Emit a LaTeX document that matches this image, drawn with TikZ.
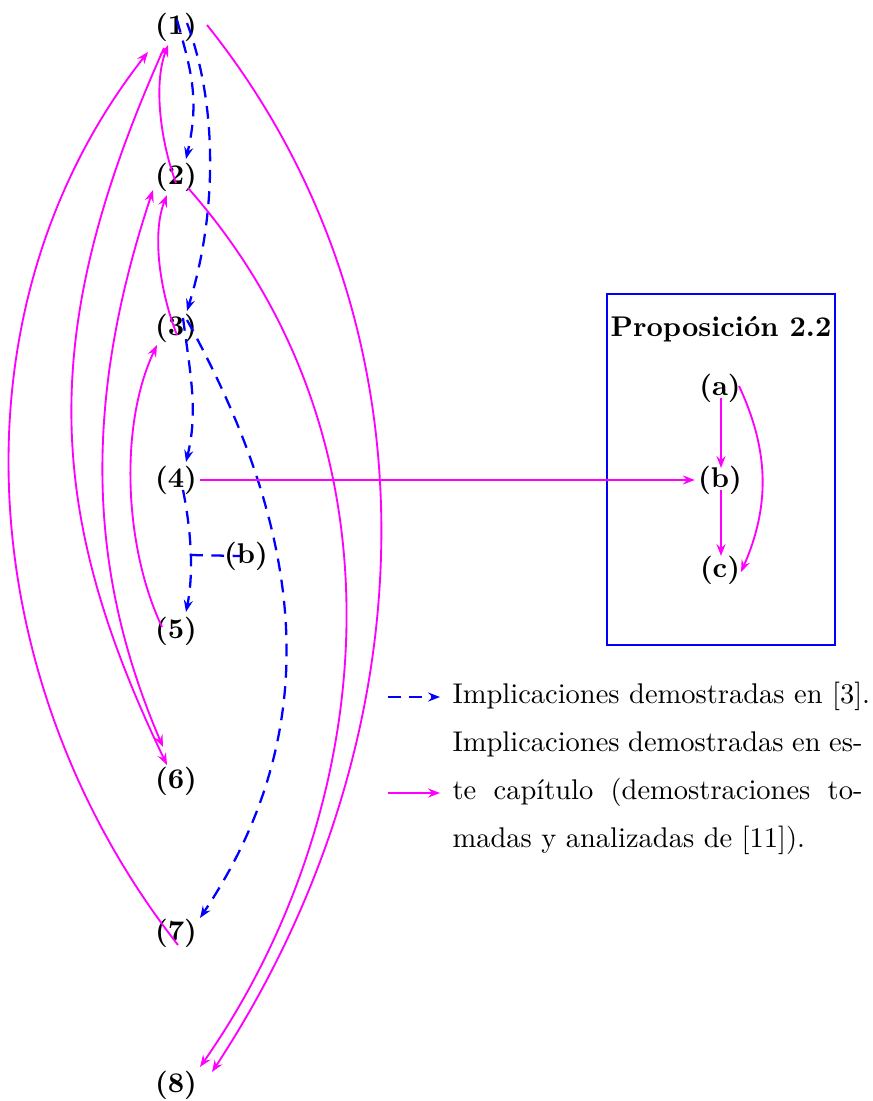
\documentclass[tikz,border=0pt]{standalone}
\usetikzlibrary{arrows.meta}
\definecolor{mag}{RGB}{255,0,255}
\definecolor{blu}{RGB}{0,0,255}
\begin{document}
\begin{tikzpicture}[x=0.351pt,y=-0.351pt,
  lbl/.style={font=\bfseries,inner sep=1pt},
  tip/.style={-{Stealth[length=4.2pt,width=3.2pt,inset=1.5pt]}},
  dsh/.style={blu,dash pattern=on 4.5pt off 3pt,line width=0.8pt},
  blueimp/.style={tip,dsh},
  magimp/.style={tip,mag,line width=0.65pt},
  leg/.style={inner sep=0pt,font=\fontsize{10}{16.8}\selectfont}]
\useasboundingbox (0,0) rectangle (872,1101);
% main nodes
\node[lbl] (n1) at (176,27) {(1)};
\node[lbl] (n2) at (176,177) {(2)};
\node[lbl] (n3) at (176,328) {(3)};
\node[lbl] (n4) at (176,480) {(4)};
\node[lbl] (n5) at (176,631) {(5)};
\node[lbl] (n6) at (176,781) {(6)};
\node[lbl] (n7) at (176,933) {(7)};
\node[lbl] (n8) at (176,1085) {(8)};
\node[lbl] (bl) at (246,556) {(b)};
\coordinate (bm) at (190,555);
% box
\node[draw=blu,line width=0.75pt,minimum width=228*0.351pt,minimum height=351*0.351pt,inner sep=0pt] (box) at (721,469.5) {};
\node[lbl] (title) at (721,329) {Proposición 2.2};
\node[lbl] (ba) at (720,388) {(a)};
\node[lbl] (bb) at (720,480) {(b)};
\node[lbl] (bc) at (720,570) {(c)};
% blue dashed
\draw[blueimp] ([shift={(1,-7)}]n1.center) .. controls +(14,50) and +(14,-60) .. ([shift={(10,-18)}]n2.center);
\draw[blueimp] ([shift={(11,-4)}]n1.center) .. controls +(30,80) and +(31,-100) .. ([shift={(11,-17)}]n3.center);
\draw[blueimp] ([shift={(7,-10)}]n3.center) .. controls +(8,60) and +(12,-50) .. ([shift={(10,-18)}]n4.center);
\draw[blueimp] ([shift={(11,-8)}]n3.center) .. controls +(110,200) and +(134,-200) .. ([shift={(24,-15)}]n7.center);
\draw[blueimp] ([shift={(7,10)}]n4.center) .. controls +(8,40) and +(8,-40) .. ([shift={(10,-19)}]n5.center);
\draw[dsh] (bm) -- ([shift={(-6,0)}]bl.center);
% magenta
\draw[magimp] ([shift={(0,6)}]n2.center) .. controls +(-15,-40) and +(-15,40) .. ([shift={(-8,18)}]n1.center);
\draw[magimp] ([shift={(1,7)}]n3.center) .. controls +(-16,-40) and +(-16,40) .. ([shift={(-9,18)}]n2.center);
\draw[magimp] ([shift={(-14,-4)}]n5.center) .. controls +(-38,-80) and +(-38,80) .. ([shift={(-19,17)}]n3.center);
\draw[magimp] ([shift={(2,12)}]n7.center) .. controls +(-204,-260) and +(-204,260) .. ([shift={(-28,25)}]n1.center);
\draw[magimp] ([shift={(-12,21)}]n1.center) .. controls +(-125,280) and +(-125,-260) .. ([shift={(-9,-16)}]n6.center);
\draw[magimp,{Stealth[length=4.2pt,width=3.2pt,inset=1.5pt]}-{Stealth[length=4.2pt,width=3.2pt,inset=1.5pt]}] ([shift={(-23,13)}]n2.center) .. controls +(-73,220) and +(-73,-170) .. ([shift={(-13,-34)}]n6.center);
\draw[magimp] ([shift={(12,11)}]n2.center) .. controls +(230,260) and +(175,-250) .. ([shift={(24,-18)}]n8.center);
\draw[magimp] ([shift={(31,-2)}]n1.center) .. controls +(240,300) and +(217,-330) .. ([shift={(36,-13)}]n8.center);
\draw[magimp] (n4.east) -- (bb.west);
% box arrows
\draw[magimp] ([shift={(1,10)}]ba.center) -- ([shift={(1,-12)}]bb.center);
\draw[magimp] ([shift={(1,10)}]bb.center) -- ([shift={(1,-14)}]bc.center);
\draw[magimp] ([shift={(19,-2)}]ba.center) .. controls +(28,60) and +(31,-70) .. ([shift={(21,2)}]bc.center);
% legend
\coordinate (l1s) at (388,697);
\coordinate (l1e) at (440,697);
\coordinate (l2s) at (388,793);
\coordinate (l2e) at (440,793);
\draw[blueimp] (l1s) -- (l1e);
\draw[magimp] (l2s) -- (l2e);
\node[leg,anchor=base west] (leg1) at (452,703) {Implicaciones demostradas en [3].};
\node[leg,anchor=north west,text width=410*0.351pt,align=justify] (leg2) at (452,731)
  {Implicaciones demostradas en es-\linebreak te capítulo (demostraciones to-\linebreak madas y analizadas de [11]).};
\end{tikzpicture}
\end{document}
